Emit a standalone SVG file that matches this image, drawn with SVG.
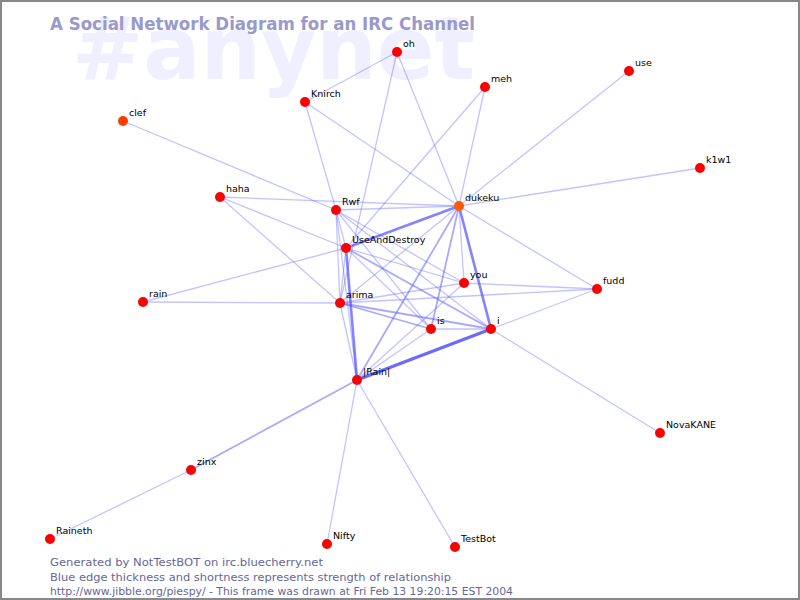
<svg xmlns="http://www.w3.org/2000/svg" width="800" height="600" viewBox="0 0 800 600">
<style>
.e1{stroke:#5a5aff;stroke-opacity:0.36;stroke-width:1.3;fill:none}
.e2{stroke:#5a5aff;stroke-opacity:0.52;stroke-width:1.8;fill:none}
.e3{stroke:#5a5aff;stroke-opacity:0.75;stroke-width:2.6;fill:none}
.e4{stroke:#5a5aff;stroke-opacity:0.9;stroke-width:3;fill:none}
.n{fill:#ff0000}
.lbl{font-family:"DejaVu Sans",sans-serif;font-size:9.5px;fill:#000}
.foot{font-family:"DejaVu Sans",sans-serif;font-size:11px;fill:#666699}
</style>
<rect x="0" y="0" width="800" height="600" fill="#ffffff"/>
<text x="72" y="79" font-family="DejaVu Sans,sans-serif" font-weight="bold" font-size="88" fill="#efefff" textLength="403" lengthAdjust="spacingAndGlyphs">#anynet</text>
<text x="50" y="30" font-family="DejaVu Sans,sans-serif" font-weight="bold" font-size="17" fill="#9999cc" textLength="425" lengthAdjust="spacingAndGlyphs">A Social Network Diagram for an IRC Channel</text>
<g id="connectors">
<line class="e1" x1="397" y1="52" x2="305" y2="102"/>
<line class="e1" x1="397" y1="52" x2="459" y2="206"/>
<line class="e1" x1="397" y1="52" x2="340" y2="303"/>
<line class="e1" x1="305" y1="102" x2="336" y2="210"/>
<line class="e1" x1="305" y1="102" x2="459" y2="206"/>
<line class="e1" x1="485" y1="87" x2="459" y2="206"/>
<line class="e1" x1="485" y1="87" x2="346" y2="248"/>
<line class="e1" x1="629" y1="71" x2="459" y2="206"/>
<line class="e1" x1="700" y1="168" x2="459" y2="206"/>
<line class="e1" x1="123" y1="121" x2="336" y2="210"/>
<line class="e1" x1="220" y1="197" x2="459" y2="206"/>
<line class="e1" x1="220" y1="197" x2="346" y2="248"/>
<line class="e1" x1="220" y1="197" x2="340" y2="303"/>
<line class="e1" x1="143" y1="302" x2="346" y2="248"/>
<line class="e1" x1="143" y1="302" x2="340" y2="303"/>
<line class="e1" x1="459" y1="206" x2="597" y2="289"/>
<line class="e1" x1="597" y1="289" x2="464" y2="283"/>
<line class="e1" x1="597" y1="289" x2="340" y2="303"/>
<line class="e1" x1="597" y1="289" x2="491" y2="329"/>
<line class="e1" x1="491" y1="329" x2="660" y2="433"/>
<line class="e2" x1="357" y1="380" x2="191" y2="470"/>
<line class="e1" x1="191" y1="470" x2="50" y2="539"/>
<line class="e1" x1="357" y1="380" x2="327" y2="544"/>
<line class="e1" x1="357" y1="380" x2="455" y2="547"/>
<line class="e1" x1="336" y1="210" x2="459" y2="206"/>
<line class="e1" x1="336" y1="210" x2="346" y2="248"/>
<line class="e1" x1="336" y1="210" x2="340" y2="303"/>
<line class="e1" x1="336" y1="210" x2="357" y2="380"/>
<line class="e1" x1="336" y1="210" x2="431" y2="329"/>
<line class="e1" x1="336" y1="210" x2="491" y2="329"/>
<line class="e1" x1="336" y1="210" x2="464" y2="283"/>
<line class="e1" x1="346" y1="248" x2="464" y2="283"/>
<line class="e1" x1="346" y1="248" x2="431" y2="329"/>
<line class="e1" x1="346" y1="248" x2="340" y2="303"/>
<line class="e1" x1="459" y1="206" x2="340" y2="303"/>
<line class="e2" x1="459" y1="206" x2="357" y2="380"/>
<line class="e2" x1="459" y1="206" x2="431" y2="329"/>
<line class="e1" x1="459" y1="206" x2="464" y2="283"/>
<line class="e2" x1="340" y1="303" x2="431" y2="329"/>
<line class="e2" x1="340" y1="303" x2="491" y2="329"/>
<line class="e1" x1="340" y1="303" x2="464" y2="283"/>
<line class="e1" x1="340" y1="303" x2="357" y2="380"/>
<line class="e1" x1="464" y1="283" x2="357" y2="380"/>
<line class="e1" x1="431" y1="329" x2="357" y2="380"/>
<line class="e1" x1="431" y1="329" x2="491" y2="329"/>
<line class="e3" x1="459" y1="206" x2="346" y2="248"/>
<line class="e3" x1="459" y1="206" x2="491" y2="329"/>
<line class="e2" x1="346" y1="248" x2="491" y2="329"/>
<line class="e3" x1="346" y1="248" x2="357" y2="380"/>
<line class="e4" x1="357" y1="380" x2="491" y2="329"/>
</g>
<g id="node-oh"><circle class="n" cx="397" cy="52" r="5"/><text class="lbl" x="403" y="47">oh</text></g>
<g id="node-Knirch"><circle class="n" cx="305" cy="102" r="5"/><text class="lbl" x="311" y="97">Knirch</text></g>
<g id="node-meh"><circle class="n" cx="485" cy="87" r="5"/><text class="lbl" x="491" y="82">meh</text></g>
<g id="node-use"><circle class="n" cx="629" cy="71" r="5"/><text class="lbl" x="635" y="66">use</text></g>
<g id="node-clef"><circle cx="123" cy="121" r="5" fill="#ff3c00"/><text class="lbl" x="129" y="116">clef</text></g>
<g id="node-k1w1"><circle class="n" cx="700" cy="168" r="5"/><text class="lbl" x="706" y="163">k1w1</text></g>
<g id="node-haha"><circle class="n" cx="220" cy="197" r="5"/><text class="lbl" x="226" y="192">haha</text></g>
<g id="node-Rwf"><circle class="n" cx="336" cy="210" r="5"/><text class="lbl" x="342" y="205">Rwf</text></g>
<g id="node-dukeku"><circle cx="459" cy="206" r="5" fill="#ff5a00"/><text class="lbl" x="465" y="201">dukeku</text></g>
<g id="node-UseAndDestroy"><circle class="n" cx="346" cy="248" r="5"/><text class="lbl" x="352" y="243">UseAndDestroy</text></g>
<g id="node-you"><circle class="n" cx="464" cy="283" r="5"/><text class="lbl" x="470" y="278">you</text></g>
<g id="node-fudd"><circle class="n" cx="597" cy="289" r="5"/><text class="lbl" x="603" y="284">fudd</text></g>
<g id="node-rain"><circle class="n" cx="143" cy="302" r="5"/><text class="lbl" x="149" y="297">rain</text></g>
<g id="node-arima"><circle class="n" cx="340" cy="303" r="5"/><text class="lbl" x="346" y="298">arima</text></g>
<g id="node-is"><circle class="n" cx="431" cy="329" r="5"/><text class="lbl" x="437" y="324">is</text></g>
<g id="node-i"><circle class="n" cx="491" cy="329" r="5"/><text class="lbl" x="497" y="324">i</text></g>
<g id="node-Rain"><circle class="n" cx="357" cy="380" r="5"/><text class="lbl" x="363" y="375">|Rain|</text></g>
<g id="node-NovaKANE"><circle class="n" cx="660" cy="433" r="5"/><text class="lbl" x="666" y="428">NovaKANE</text></g>
<g id="node-zinx"><circle class="n" cx="191" cy="470" r="5"/><text class="lbl" x="197" y="465">zinx</text></g>
<g id="node-Raineth"><circle class="n" cx="50" cy="539" r="5"/><text class="lbl" x="56" y="534">Raineth</text></g>
<g id="node-Nifty"><circle class="n" cx="327" cy="544" r="5"/><text class="lbl" x="333" y="539">Nifty</text></g>
<g id="node-TestBot"><circle class="n" cx="455" cy="547" r="5"/><text class="lbl" x="461" y="542">TestBot</text></g>
<text class="foot" x="50" y="566" textLength="273" lengthAdjust="spacingAndGlyphs">Generated by NotTestBOT on irc.bluecherry.net</text>
<text class="foot" x="50" y="581" textLength="401" lengthAdjust="spacingAndGlyphs">Blue edge thickness and shortness represents strength of relationship</text>
<text class="foot" x="50" y="595" textLength="463" lengthAdjust="spacingAndGlyphs">http://www.jibble.org/piespy/ - This frame was drawn at Fri Feb 13 19:20:15 EST 2004</text>
<rect x="1" y="1" width="798" height="598" fill="none" stroke="#888888" stroke-width="2"/>
</svg>
